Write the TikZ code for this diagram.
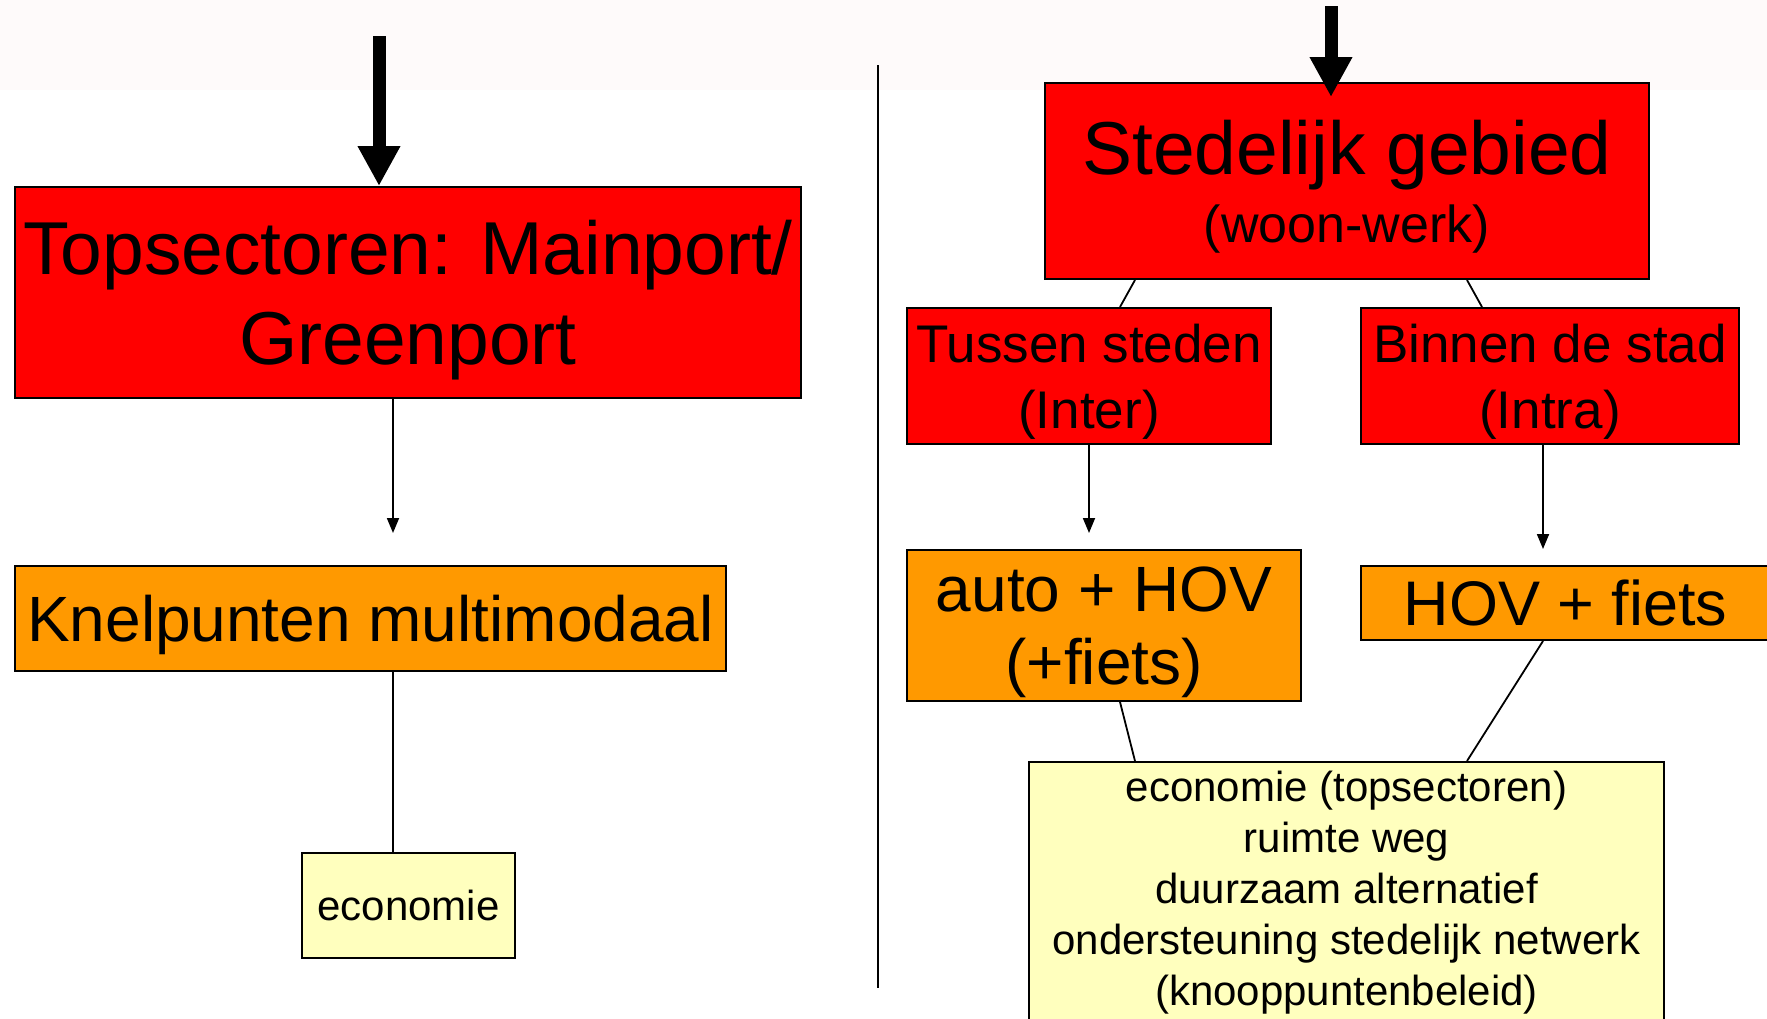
\documentclass[tikz,border=0pt]{standalone}
\usepackage{fontspec}
\setmainfont{Liberation Sans}
\usepackage{xcolor}
\usetikzlibrary{arrows.meta}
\definecolor{boxred}{RGB}{255,0,0}
\definecolor{boxorange}{RGB}{255,153,0}
\definecolor{boxyellow}{RGB}{255,255,190}
\definecolor{topstrip}{RGB}{254,250,250}

\begin{document}
\begin{tikzpicture}[x=1pt,y=-1pt,
   redbox/.style={draw,fill=boxred,line width=2pt,inner sep=0pt,align=center,text depth=0pt},
   orangebox/.style={draw,fill=boxorange,line width=2pt,inner sep=0pt,align=center,text depth=0pt},
   yellowbox/.style={draw,fill=boxyellow,line width=2pt,inner sep=0pt,align=center,text depth=0pt},
   fatarrow/.style={line width=13pt,-{Triangle[length=40pt,width=40pt]}},
   flow/.style={line width=1.8pt,-{Triangle[length=15pt,width=12pt]}},
   link/.style={line width=1.8pt}]
\useasboundingbox (0,0) rectangle (1767,1018);
\fill[topstrip] (0,0) rectangle (1767,90);
% left column
\node[redbox,minimum width=786pt,minimum height=211pt,font=\fontsize{75}{90}\selectfont]
   (top) at (408,292.5) {Topsectoren: Mainport/\\Greenport};
\node[orangebox,minimum width=711pt,minimum height=105pt,font=\fontsize{64}{70}\selectfont]
   (knel) at (370.5,618.5) {Knelpunten multimodaal};
\node[yellowbox,minimum width=213pt,minimum height=105pt,font=\fontsize{42}{51}\selectfont]
   (eco) at (408.5,905.5) {economie};
% right column
\node[redbox,minimum width=604pt,minimum height=196pt,font=\fontsize{52}{68}\selectfont]
   (sted) at (1347,181) {{\fontsize{75}{68}\selectfont Stedelijk gebied}\\(woon-werk)};
\node[redbox,minimum width=364pt,minimum height=136pt,font=\fontsize{53}{66}\selectfont]
   (tussen) at (1089,376) {Tussen steden\\(Inter)};
\node[redbox,minimum width=378pt,minimum height=136pt,font=\fontsize{53}{66}\selectfont]
   (binnen) at (1550,376) {Binnen de stad\\(Intra)};
\node[orangebox,minimum width=394pt,minimum height=151pt,font=\fontsize{64}{73}\selectfont]
   (auto) at (1104,625.5) {auto + HOV\\(+fiets)};
\node[orangebox,minimum width=409pt,minimum height=74pt,font=\fontsize{63}{70}\selectfont]
   (hov) at (1565.5,603) {HOV + fiets};
\node[yellowbox,minimum width=635pt,minimum height=300pt,text depth=47pt,font=\fontsize{42}{51}\selectfont]
   (crit) at (1346.5,912) {economie (topsectoren)\\ruimte weg\\duurzaam alternatief\\ondersteuning stedelijk netwerk\\(knooppuntenbeleid)};
% free ends
\coordinate (inL) at (379,36);
\coordinate (inR) at (1331,6);
\coordinate (k1) at (393,533);
\coordinate (t1) at (1089,533);
\coordinate (b1) at (1543,549);
\coordinate (sepA) at (878,65);
\coordinate (sepB) at (878,988);
% connectors
\draw[fatarrow] (inL) -- (top.north -| inL);
\draw[fatarrow] (inR) -- ([yshift=-15pt]sted.north -| inR);
\draw[flow] (top.south -| k1) -- (k1);
\draw[link] (knel.south -| k1) -- (eco.north -| k1);
\draw[link] (sepA) -- (sepB);
\draw[link] ([xshift=-212pt]sted.south) -- ([xshift=31pt]tussen.north);
\draw[link] ([xshift=120pt]sted.south) -- ([xshift=-68pt]binnen.north);
\draw[flow] (tussen.south) -- (t1);
\draw[flow] (binnen.south -| b1) -- (b1);
\draw[link] ([xshift=16pt]auto.south) -- ([xshift=-211.5pt]crit.north);
\draw[link] ([xshift=-22.5pt]hov.south) -- ([xshift=120.5pt]crit.north);
\end{tikzpicture}
\end{document}
